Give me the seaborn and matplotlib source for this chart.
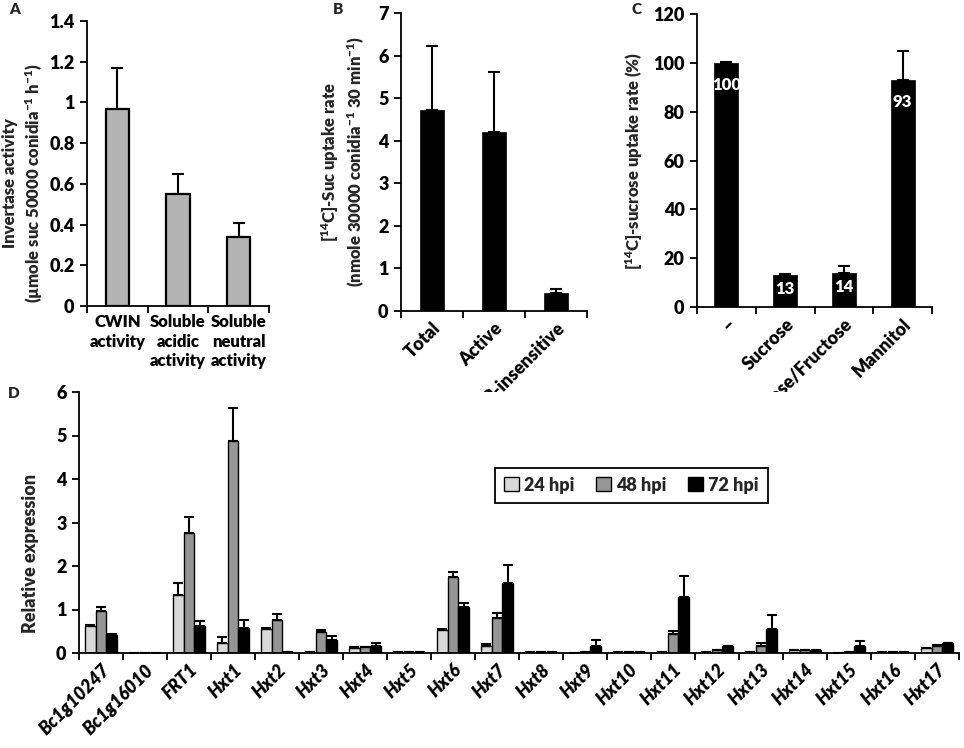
import numpy as np
import pandas as pd
import matplotlib
matplotlib.use("Agg")
import matplotlib.pyplot as plt
import seaborn as sns
from matplotlib.ticker import FuncFormatter, FixedLocator
from matplotlib.patches import Patch

# ---------------- data ----------------
a_labels = ["CWIN\nactivity", "Soluble\nacidic\nactivity", "Soluble\nneutral\nactivity"]
a_values = [0.97, 0.548, 0.338]
a_errors = [0.20, 0.10, 0.07]

b_labels = ["Total", "Active", "CCCP-insensitive"]
b_values = [4.72, 4.21, 0.42]
b_errors = [1.50, 1.40, 0.10]

c_labels = ["\u2013", "Sucrose", "Glucose/Fructose", "Mannitol"]
c_values = [100, 13, 14, 93]
c_errors = [0.4, 0.6, 2.6, 12]
c_texts = ["100", "13", "14", "93"]

genes = ["Bc1g10247", "Bc1g16010", "FRT1", "Hxt1", "Hxt2", "Hxt3", "Hxt4", "Hxt5",
         "Hxt6", "Hxt7", "Hxt8", "Hxt9", "Hxt10", "Hxt11", "Hxt12", "Hxt13",
         "Hxt14", "Hxt15", "Hxt16", "Hxt17"]
h24 = [0.62, 0, 1.33, 0.24, 0.55, 0.02, 0.12, 0.02, 0.54, 0.16, 0.02, 0.01, 0.02, 0.02, 0.02, 0.02, 0.06, 0.01, 0.02, 0.11]
e24 = [0.03, 0, 0.28, 0.12, 0.02, 0, 0.01, 0, 0.02, 0.04, 0, 0, 0, 0.01, 0, 0.01, 0, 0, 0, 0.01]
h48 = [0.97, 0, 2.76, 4.87, 0.77, 0.48, 0.13, 0.02, 1.74, 0.80, 0.02, 0.02, 0.02, 0.43, 0.07, 0.15, 0.06, 0.02, 0.02, 0.17]
e48 = [0.08, 0, 0.37, 0.77, 0.12, 0.04, 0.01, 0, 0.12, 0.12, 0, 0.01, 0, 0.08, 0.01, 0.09, 0, 0, 0, 0.01]
h72 = [0.42, 0, 0.61, 0.57, 0.02, 0.29, 0.15, 0.02, 1.06, 1.62, 0.02, 0.15, 0.02, 1.29, 0.15, 0.56, 0.06, 0.15, 0.02, 0.22]
e72 = [0.01, 0, 0.12, 0.20, 0, 0.11, 0.09, 0, 0.08, 0.40, 0, 0.16, 0, 0.49, 0.01, 0.32, 0, 0.12, 0, 0.01]
series = ["24 hpi", "48 hpi", "72 hpi"]
series_colors = ["#d9d9d9", "#969696", "#000000"]

# ---------------- style ----------------
sns.set_theme(style="ticks")
FONT = ["Lato", "DejaVu Sans"]
WT = "heavy"
plt.rcParams["font.family"] = FONT
plt.rcParams["font.weight"] = WT
plt.rcParams["axes.labelweight"] = WT
plt.rcParams["mathtext.fontset"] = "custom"
plt.rcParams["mathtext.rm"] = "Lato:heavy"
plt.rcParams["mathtext.bf"] = "Lato:heavy"
plt.rcParams["mathtext.default"] = "bf"
plt.rcParams["axes.edgecolor"] = "black"
plt.rcParams["axes.linewidth"] = 1.3
plt.rcParams["xtick.color"] = "black"
plt.rcParams["ytick.color"] = "black"

fig = plt.figure(figsize=(9.64, 7.48), dpi=100)
W, H = 964, 748


def add_ax(x0, y0, x1, y1):
    return fig.add_axes([x0 / W, 1 - y1 / H, (x1 - x0) / W, (y1 - y0) / H])


def style_axis(ax, n, ymax, ystep, fs=13):
    sns.despine(ax=ax)
    ax.set_xlim(-0.5, n - 0.5)
    ax.set_ylim(0, ymax)
    ax.set_yticks(np.arange(0, ymax + ystep / 2, ystep))
    ax.yaxis.set_major_formatter(FuncFormatter(lambda v, p: f"{v:g}"))
    ax.tick_params(axis="y", direction="out", length=5, width=1.3, labelsize=fs, pad=4)
    ax.tick_params(axis="x", which="major", length=0, labelsize=fs, pad=6)
    ax.xaxis.set_minor_locator(FixedLocator(np.arange(-0.5, n, 1.0)))
    ax.tick_params(axis="x", which="minor", direction="out", length=5, width=1.3)
    for lab in ax.get_yticklabels():
        lab.set_fontweight(WT)
    ax.set_xlabel("")


def add_errors(ax, err_list):
    bars = [p for p in ax.patches]
    xs = [b.get_x() + b.get_width() / 2 for b in bars]
    ys = [b.get_height() for b in bars]
    ax.errorbar(xs, ys, yerr=[np.zeros(len(err_list)), err_list], fmt="none",
                ecolor="black", elinewidth=1.5, capsize=4, capthick=1.5, zorder=1)


# ---------------- Panel A ----------------
axA = add_ax(87, 21, 269, 306)
dfA = pd.DataFrame({"cat": a_labels, "val": a_values})
sns.barplot(data=dfA, x="cat", y="val", color="#b3b3b3", edgecolor="black",
            linewidth=1.6, width=0.38, saturation=1, ax=axA, zorder=2)
add_errors(axA, a_errors)
style_axis(axA, 3, 1.4, 0.2)
axA.set_ylabel("Invertase activity\n(\u00b5mole suc 50000 conidia$^{-1}$ h$^{-1}$)",
               fontsize=12, fontweight=WT, linespacing=1.3, multialignment="center")
axA.yaxis.set_label_coords(-0.23, 0.43)
axA.set_xticks(range(3))
axA.set_xticklabels(a_labels, fontsize=12, fontweight=WT, linespacing=1.25, va="top")

# ---------------- Panel B ----------------
axB = add_ax(401, 13, 587, 311)
dfB = pd.DataFrame({"cat": b_labels, "val": b_values})
sns.barplot(data=dfB, x="cat", y="val", color="black", edgecolor="black",
            linewidth=0.5, width=0.39, saturation=1, ax=axB, zorder=2)
add_errors(axB, b_errors)
style_axis(axB, 3, 7, 1)
axB.set_ylabel("[$^{14}$C]-Suc uptake rate\n(nmole 30000 conidia$^{-1}$ 30 min$^{-1}$)",
               fontsize=12, fontweight=WT, labelpad=8, linespacing=1.3, multialignment="center")
axB.set_xticks(range(3))
axB.set_xticklabels(b_labels, rotation=45, ha="right", rotation_mode="anchor",
                    fontsize=13, fontweight=WT)

# ---------------- Panel C ----------------
axC = add_ax(697, 14, 932, 307)
dfC = pd.DataFrame({"cat": c_labels, "val": c_values})
sns.barplot(data=dfC, x="cat", y="val", color="black", edgecolor="black",
            linewidth=0.5, width=0.41, saturation=1, ax=axC, zorder=2)
add_errors(axC, c_errors)
style_axis(axC, 4, 120, 20)
axC.set_ylabel("[$^{14}$C]-sucrose uptake rate (%)", fontsize=12, fontweight=WT, labelpad=6)
axC.set_xticks(range(4))
axC.set_xticklabels(c_labels, rotation=45, ha="right", rotation_mode="anchor",
                    fontsize=13, fontweight=WT)
for bar, txt, v in zip(axC.patches, c_texts, c_values):
    ty = v - 9 if v > 30 else v * 0.58
    axC.text(bar.get_x() + bar.get_width() / 2, ty, txt, color="white",
             ha="center", va="center", fontsize=12, fontweight=WT, zorder=5)

# ---------------- Panel D ----------------
axD = add_ax(79, 392, 959, 653)
dfD = pd.DataFrame({
    "gene": genes * 3,
    "series": [s for s in series for _ in genes],
    "val": h24 + h48 + h72,
})
sns.barplot(data=dfD, x="gene", y="val", hue="series", order=genes, hue_order=series,
            palette=series_colors, edgecolor="black", linewidth=1.0, width=0.72,
            gap=0, saturation=1, ax=axD, legend=False, zorder=2)
errs_all = e24 + e48 + e72
bars_all = [b for cont in axD.containers for b in cont]
xsD = [b.get_x() + b.get_width() / 2 for b in bars_all]
ysD = [b.get_height() for b in bars_all]
axD.errorbar(xsD, ysD, yerr=[np.zeros(len(errs_all)), errs_all], fmt="none",
             ecolor="black", elinewidth=1.5, capsize=3.5, capthick=1.5, zorder=1)
style_axis(axD, len(genes), 6, 1)
axD.set_ylabel("Relative expression", fontsize=13, fontweight=WT)
axD.yaxis.set_label_coords(-0.045, 0.38)
axD.set_xticks(range(len(genes)))
axD.set_xticklabels(genes, rotation=45, ha="right", rotation_mode="anchor",
                    fontsize=13, fontweight=WT, style="italic")
handles = [Patch(facecolor=c, edgecolor="black", linewidth=1.0) for c in series_colors]
leg = axD.legend(handles, series, ncol=3, loc="upper left", bbox_to_anchor=(0.4625, 0.745),
                 frameon=True, fancybox=False, edgecolor="black", framealpha=1,
                 handlelength=0.8, handleheight=0.8, handletextpad=0.3, columnspacing=1.2,
                 borderpad=0.5, prop={"family": FONT, "weight": WT, "size": 13})
leg.get_frame().set_linewidth(1.3)

# ---------------- panel letters ----------------
for txt, x, y in [("A", 9, 10), ("B", 333, 10), ("C", 631, 10), ("D", 8, 393)]:
    fig.text(x / W, 1 - y / H, txt, fontsize=11, fontweight=WT, ha="left", va="center")

fig.savefig("out.png", dpi=100)
